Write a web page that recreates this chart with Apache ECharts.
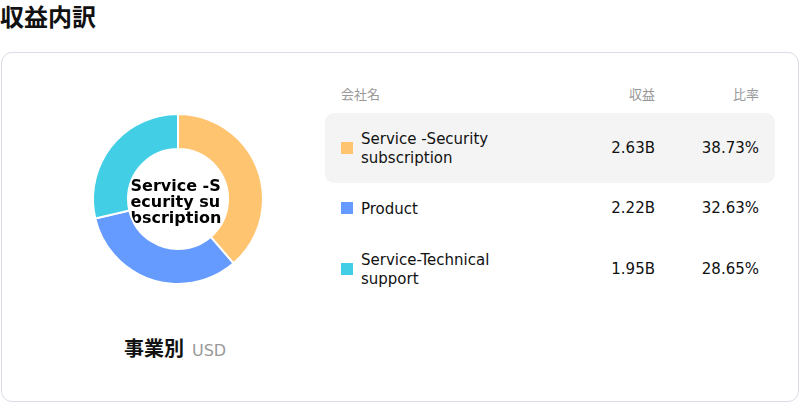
<!DOCTYPE html>
<html><head><meta charset="utf-8">
<script src="https://cdn.jsdelivr.net/npm/echarts@6/dist/echarts.min.js"></script>
<style>
html,body{margin:0;padding:0;width:800px;height:402px;overflow:hidden;background:#fff;font-family:"DejaVu Sans","Noto Sans CJK JP",sans-serif;}
#title{position:absolute;left:0;top:0;font-size:24px;line-height:32px;font-weight:bold;color:#111;font-family:"Noto Sans CJK JP","DejaVu Sans",sans-serif;}
#card{position:absolute;left:1px;top:52px;width:796px;height:348px;border:1px solid #dcdce6;border-radius:11px;}
#chart{position:absolute;left:48px;top:90px;width:260px;height:220px;}
#sub{position:absolute;left:124px;top:336px;font-size:20px;line-height:24px;font-weight:bold;color:#111;font-family:"Noto Sans CJK JP",sans-serif;white-space:nowrap;}
#sub span{font-size:16px;font-weight:normal;color:#999;margin-left:8px;font-family:"DejaVu Sans",sans-serif;}
.hdr{position:absolute;top:84px;font-size:13px;color:#999;font-family:"Noto Sans CJK JP",sans-serif;}
.row{position:absolute;left:325px;width:450px;border-radius:9px;}
.sq{position:absolute;left:16px;width:12px;height:12px;}
.nm{position:absolute;left:36px;font-size:15px;color:#111;line-height:19px;}
.val{position:absolute;right:120px;font-size:15px;color:#111;}
.pct{position:absolute;right:16px;font-size:15px;color:#111;}
</style></head>
<body>
<div id="title">収益内訳</div>
<div id="card"></div>
<div id="chart"></div>
<div id="sub">事業別<span>USD</span></div>
<div class="hdr" style="left:341px">会社名</div>
<div class="hdr" style="right:145px">収益</div>
<div class="hdr" style="right:41px">比率</div>
<div id="rows"></div>
<script>
const categories = ["Service -Security subscription", "Product", "Service-Technical support"];
const nameLines = [["Service -Security", "subscription"], ["Product"], ["Service-Technical", "support"]];
const revenue = [2.63, 2.22, 1.95];
const revenueLabels = ["2.63B", "2.22B", "1.95B"];
const shareLabels = ["38.73%", "32.63%", "28.65%"];
const colors = ["#ffc470", "#659aff", "#42cfe6"];

const rowTops = [113, 183, 244];
const rowHeights = [70, 50, 50];
const rowsEl = document.getElementById('rows');
categories.forEach((c, i) => {
  const r = document.createElement('div');
  r.className = 'row';
  r.style.top = rowTops[i] + 'px';
  r.style.height = rowHeights[i] + 'px';
  if (i === 0) r.style.background = '#f4f4f4';
  const mid = (i === 0 ? 35 : 25);
  const lines = nameLines[i];
  const nmH = lines.length * 19;
  r.innerHTML =
    '<div class="sq" style="top:' + (mid - 6) + 'px;background:' + colors[i] + '"></div>' +
    '<div class="nm" style="top:' + (mid - nmH / 2 + 1) + 'px">' + lines.join('<br>') + '</div>' +
    '<div class="val" style="top:' + (mid - 9) + 'px">' + revenueLabels[i] + '</div>' +
    '<div class="pct" style="top:' + (mid - 9) + 'px">' + shareLabels[i] + '</div>';
  rowsEl.appendChild(r);
});

const chart = echarts.init(document.getElementById('chart'), null, {renderer: 'canvas'});
chart.setOption({
  animation: false,
  color: colors,
  series: [{
    type: 'pie',
    center: [130, 109],
    radius: [50, 85],
    startAngle: 90,
    clockwise: true,
    avoidLabelOverlap: false,
    itemStyle: {borderColor: '#fff', borderWidth: 2},
    label: {show: false},
    labelLine: {show: false},
    emphasis: {disabled: true},
    data: categories.map((c, i) => ({name: c, value: revenue[i]}))
  }],
  graphic: [{
    type: 'text',
    left: 'center',
    top: 89,
    style: {
      text: categories[0],
      width: 95,
      overflow: 'breakAll',
      font: 'bold 16px "DejaVu Sans", sans-serif',
      lineHeight: 16,
      fill: '#000',
      align: 'center'
    }
  }]
});
</script>
</body></html>
